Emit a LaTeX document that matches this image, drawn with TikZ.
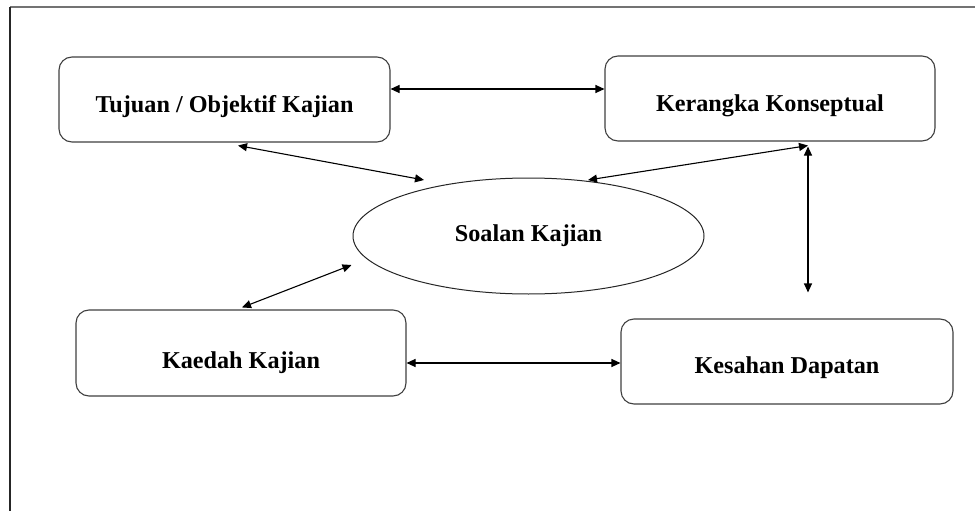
\documentclass[tikz,border=0pt]{standalone}
\usepackage{fontspec}
\setmainfont{Liberation Serif}
\usetikzlibrary{shapes.geometric,arrows.meta}
\begin{document}
\begin{tikzpicture}[x=1pt,y=-1pt,
  box/.style={draw=black!75,line width=1.1pt,rounded corners=13pt,fill=white,
    font=\fontsize{24.2}{28}\selectfont\bfseries,align=center,text depth=0pt},
  oval/.style={ellipse,draw=black!85,line width=1pt,inner sep=0pt,
    font=\fontsize{24.2}{28}\selectfont\bfseries},
  link/.style={line width=1.1pt,{Triangle[length=9pt,width=8pt]}-{Triangle[length=9pt,width=8pt]}}]
\useasboundingbox (0,0) rectangle (975,511);
\draw[line width=2pt,black!55] (10,7) coordinate (fa) -- (975,7) coordinate (fb);
\draw[line width=2pt,black!85] (fa) -- (10,511) coordinate (fc);
\node[box,minimum width=331pt,minimum height=85pt,text height=25.6pt] (tuj) at (224.5,99.5) {Tujuan / Objektif Kajian};
\node[box,minimum width=330pt,minimum height=85pt,text height=26.4pt] (ker) at (770,98.5) {Kerangka Konseptual};
\node[oval,minimum width=351pt,minimum height=116pt] (soal) at (528.5,236) {Soalan Kajian};
\node[box,minimum width=330pt,minimum height=86pt,text height=30pt] (kae) at (241,353) {Kaedah Kajian};
\node[box,minimum width=332pt,minimum height=85pt,text height=23pt] (kes) at (787,361.5) {Kesahan Dapatan};
\draw[link] ([yshift=10.5pt]tuj.east) -- ([yshift=9.5pt]ker.west);
\draw[link] ([xshift=13.5pt,yshift=-3pt]tuj.south) -- ([xshift=-104.5pt,yshift=56pt]soal.center);
\draw[link] ([xshift=38pt,yshift=-4pt]ker.south) -- ([xshift=59.5pt,yshift=56pt]soal.center);
\draw[link] ([xshift=38pt,yshift=-5pt]ker.south) -- ([xshift=21pt,yshift=26pt]kes.north);
\draw[link] ([xshift=1pt,yshift=2pt]kae.north) -- ([xshift=-1pt,yshift=-29pt]soal.west);
\draw[link] ([yshift=-10pt]kae.east) -- ([yshift=-1.5pt]kes.west);
\end{tikzpicture}
\end{document}
